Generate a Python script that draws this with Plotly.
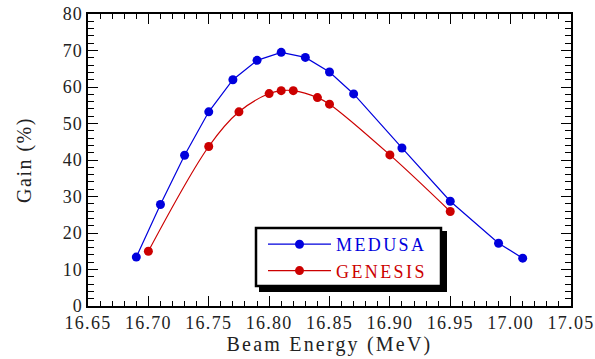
import plotly.graph_objects as go

# ---- data ----
medusa_x = [16.69, 16.71, 16.73, 16.75, 16.77, 16.79, 16.81, 16.83, 16.85, 16.87, 16.91, 16.95, 16.99, 17.01]
medusa_y = [13.4, 27.8, 41.3, 53.2, 62.0, 67.3, 69.5, 68.1, 64.1, 58.1, 43.3, 28.7, 17.2, 13.1]
genesis_x = [16.70, 16.75, 16.775, 16.80, 16.81, 16.82, 16.84, 16.85, 16.90, 16.95]
genesis_y = [15.0, 43.7, 53.2, 58.2, 59.0, 59.0, 57.1, 55.3, 41.4, 25.9]
x_ticks = [16.65, 16.70, 16.75, 16.80, 16.85, 16.90, 16.95, 17.00, 17.05]
x_tick_labels = ["16.65", "16.70", "16.75", "16.80", "16.85", "16.90", "16.95", "17.00", "17.05"]
y_ticks = [0, 10, 20, 30, 40, 50, 60, 70, 80]
y_tick_labels = ["0", "10", "20", "30", "40", "50", "60", "70", "80"]

BLUE = "#0000dd"
RED = "#cc0000"
FONT = "Liberation Serif, Times New Roman, serif"

# pixel helpers for the legend frame (plot area 88..571 x 14..306)
def px(x):
    return (x - 88) / 483.0

def py(y):
    return (306 - y) / 292.0

sp = lambda s, ls: f"<span style='letter-spacing:{ls}px'>{s}</span>"

fig = go.Figure()
fig.add_trace(go.Scatter(
    x=medusa_x, y=medusa_y, mode="lines+markers",
    name=f"<span style='color:{BLUE};letter-spacing:2.4px'>MEDUSA</span>",
    line=dict(color=BLUE, width=1.2),
    marker=dict(color=BLUE, size=9),
))
fig.add_trace(go.Scatter(
    x=genesis_x, y=genesis_y, mode="lines+markers",
    name=f"<span style='color:{RED};letter-spacing:2.4px'>GENESIS</span>",
    line=dict(color=RED, width=1.2, shape="spline", smoothing=1.0),
    marker=dict(color=RED, size=9),
))

axis_common = dict(
    showline=True, linecolor="black", linewidth=1.5, mirror="allticks",
    ticks="inside", ticklen=10, tickwidth=1.2, tickcolor="black",
    showgrid=False, zeroline=False, automargin=False,
    tickfont=dict(family=FONT, size=18, color="#222"),
)

fig.update_layout(
    width=595, height=359,
    margin=dict(l=88, r=24, t=14, b=53),
    paper_bgcolor="white", plot_bgcolor="white",
    font=dict(family=FONT, size=18, color="#222"),
    showlegend=True,
    legend=dict(
        x=px(263), y=py(257.5), xanchor="left", yanchor="middle",
        bgcolor="rgba(0,0,0,0)", borderwidth=0, itemwidth=63,
        font=dict(family=FONT, size=18),
    ),
    xaxis=dict(
        range=[16.65, 17.05], tickvals=x_ticks,
        ticktext=[sp(t, 1.3) for t in x_tick_labels],
        minor=dict(ticks="inside", ticklen=5, dtick=0.01, tickwidth=1.2, tickcolor="black"),
        title=dict(text=sp("Beam Energy (MeV)", 2.2), standoff=1,
                   font=dict(family=FONT, size=20, color="#222")),
        **axis_common,
    ),
    yaxis=dict(
        range=[0, 80], tickvals=y_ticks,
        ticktext=[sp(t, 1.0) for t in y_tick_labels],
        minor=dict(ticks="inside", ticklen=6, dtick=2, tickwidth=1.2, tickcolor="black"),
        title=dict(text=sp("Gain (%)", 1.5), standoff=26,
                   font=dict(family=FONT, size=20, color="#222")),
        **axis_common,
    ),
    shapes=[
        dict(type="rect", xref="paper", yref="paper",
             x0=px(259), x1=px(447), y0=py(292), y1=py(231),
             fillcolor="black", line=dict(width=0), layer="above"),
        dict(type="rect", xref="paper", yref="paper",
             x0=px(256), x1=px(441), y0=py(286), y1=py(228),
             fillcolor="white", line=dict(color="black", width=2.5), layer="above"),
    ],
)

fig.write_html("out.html")
